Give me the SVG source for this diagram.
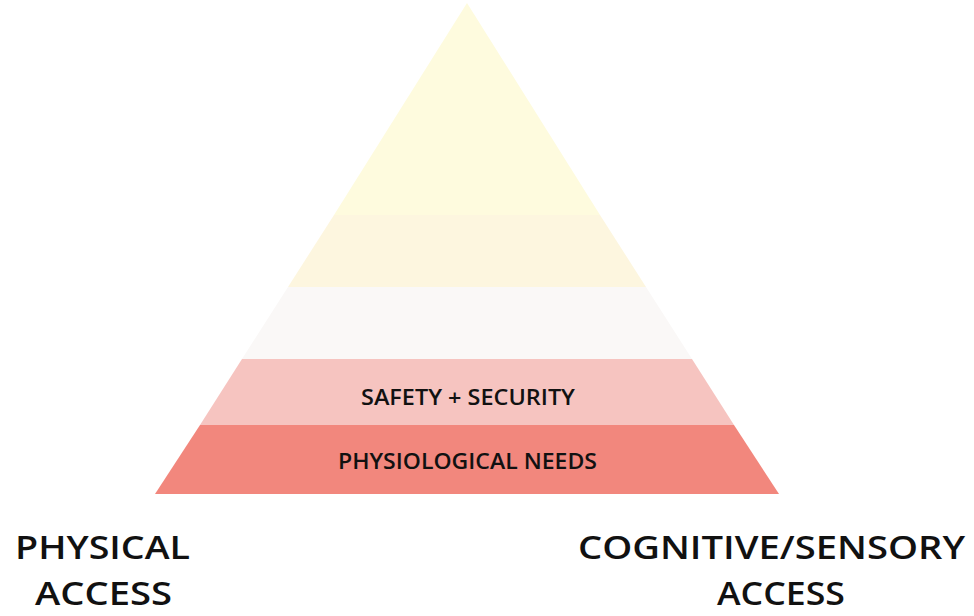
<svg xmlns="http://www.w3.org/2000/svg" width="974" height="616" viewBox="0 0 974 616">
<style>
.lbl{font-family:"Open Sans","Noto Sans","Liberation Sans",sans-serif;font-weight:600;fill:#111;}
.in{font-size:21px;text-anchor:middle;}
.out{font-size:33px;text-anchor:middle;}
</style>
<rect width="974" height="616" fill="#ffffff"/>
<g id="pyramid">
<g id="layer5"><polygon points="467,3 334,215 600,215" fill="#FEFBDE"/></g>
<g id="layer4"><polygon points="334,215 600,215 646,287 288,287" fill="#FDF6DF"/></g>
<g id="layer3"><polygon points="288,287 646,287 692,359 242,359" fill="#FAF8F7"/></g>
<g id="layer2"><polygon points="242,359 692,359 734,425 200,425" fill="#F6C4C0"/>
<text class="lbl in" x="468" y="405" textLength="214" lengthAdjust="spacingAndGlyphs">SAFETY + SECURITY</text></g>
<g id="layer1"><polygon points="200,425 734,425 779,494 155,494" fill="#F2877D"/>
<text class="lbl in" x="467.5" y="469" textLength="259" lengthAdjust="spacingAndGlyphs">PHYSIOLOGICAL NEEDS</text></g>
</g>
<g id="physical"><text class="lbl out" x="102.5" y="559" textLength="175" lengthAdjust="spacingAndGlyphs">PHYSICAL</text><text class="lbl out" x="103.5" y="605" textLength="137" lengthAdjust="spacingAndGlyphs">ACCESS</text></g>
<g id="cognitive"><text class="lbl out" x="771.5" y="559" textLength="387" lengthAdjust="spacingAndGlyphs">COGNITIVE/SENSORY</text><text class="lbl out" x="781" y="605" textLength="128" lengthAdjust="spacingAndGlyphs">ACCESS</text></g>
<g id="connectors"></g>
</svg>
